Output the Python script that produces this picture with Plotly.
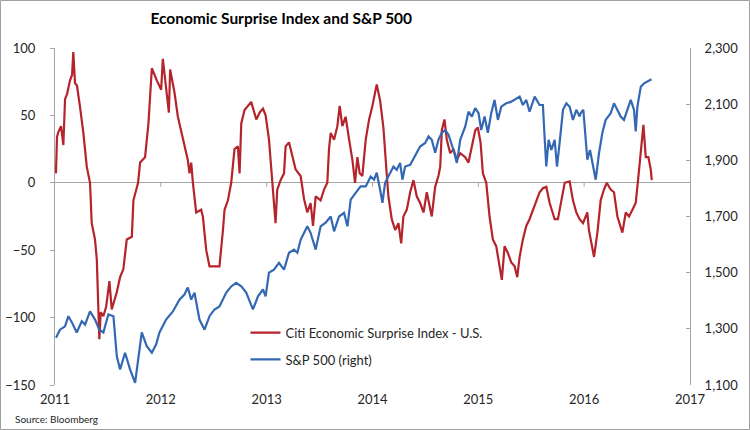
import plotly.graph_objects as go

# ---- data (decimal year, value) ----
cesi_t = [2011.009, 2011.019, 2011.033, 2011.057, 2011.079, 2011.095, 2011.114, 2011.142, 2011.161, 2011.173,
          2011.189, 2011.208, 2011.237, 2011.268, 2011.300, 2011.331, 2011.347, 2011.378, 2011.395, 2011.419,
          2011.432, 2011.457, 2011.483, 2011.514, 2011.536, 2011.584, 2011.615, 2011.646, 2011.678, 2011.726,
          2011.741, 2011.785, 2011.804, 2011.851, 2011.883, 2011.915, 2011.962, 2012.003, 2012.019, 2012.050,
          2012.076, 2012.088, 2012.129, 2012.161, 2012.208, 2012.255, 2012.271, 2012.287, 2012.303, 2012.334,
          2012.381, 2012.397, 2012.429, 2012.460, 2012.507, 2012.554, 2012.587, 2012.602, 2012.634, 2012.665,
          2012.696, 2012.728, 2012.744, 2012.760, 2012.791, 2012.854, 2012.902, 2012.933, 2012.965, 2012.990,
          2013.022, 2013.053, 2013.084, 2013.100, 2013.132, 2013.164, 2013.179, 2013.211, 2013.242, 2013.273,
          2013.321, 2013.353, 2013.384, 2013.415, 2013.438, 2013.463, 2013.510, 2013.542, 2013.573, 2013.589,
          2013.605, 2013.637, 2013.668, 2013.690, 2013.715, 2013.746, 2013.779, 2013.810, 2013.835, 2013.857,
          2013.879, 2013.904, 2013.936, 2013.968, 2013.999, 2014.040, 2014.072, 2014.103, 2014.134, 2014.150,
          2014.182, 2014.214, 2014.245, 2014.271, 2014.292, 2014.324, 2014.356, 2014.387, 2014.418, 2014.450,
          2014.482, 2014.513, 2014.560, 2014.592, 2014.623, 2014.640, 2014.655, 2014.680, 2014.702, 2014.734,
          2014.765, 2014.797, 2014.829, 2014.876, 2014.907, 2014.939, 2014.971, 2014.995, 2015.021, 2015.043,
          2015.075, 2015.106, 2015.137, 2015.169, 2015.201, 2015.222, 2015.248, 2015.279, 2015.311, 2015.343,
          2015.368, 2015.390, 2015.421, 2015.453, 2015.484, 2015.516, 2015.548, 2015.579, 2015.610, 2015.642,
          2015.674, 2015.721, 2015.752, 2015.790, 2015.816, 2015.863, 2015.894, 2015.926, 2015.957, 2015.989,
          2016.030, 2016.045, 2016.078, 2016.093, 2016.125, 2016.156, 2016.187, 2016.213, 2016.251, 2016.282,
          2016.314, 2016.345, 2016.361, 2016.393, 2016.424, 2016.456, 2016.487, 2016.509, 2016.535, 2016.560,
          2016.582, 2016.607, 2016.629, 2016.639]
cesi_v = [7, 34, 38, 42, 28, 62, 66, 76, 80, 97,
          74, 72, 56, 37, 12, 0, -30, -42, -57, -116,
          -96, -99, -92, -73, -94, -81, -70, -64, -42, -40,
          -13, 0, 15, 19, 44, 85, 76, 69, 92, 71,
          52, 84, 67, 49, 32, 17, 7, 15, 0, -22,
          -20, -25, -50, -62, -62, -62, -35, -20, -13, 0,
          25, 27, 7, 44, 54, 60, 47, 52, 55, 50,
          32, 0, -30, -5, 2, 7, 27, 30, 19, 10,
          5, -12, -22, -15, -32, -10, -13, -5, 0, 25,
          37, 32, 42, 57, 42, 49, 32, 17, 0, 19,
          7, 5, 32, 47, 57, 73, 61, 41, 7, -10,
          -27, -35, -30, -45, -25, -20, -7, 2, -10, -15,
          -22, -7, -25, -3, 5, 12, 39, 47, 32, 22,
          25, 17, 22, 19, 15, 27, 39, 41, 30, 7,
          0, -25, -42, -47, -62, -72, -47, -52, -59, -62,
          -70, -55, -42, -32, -27, -20, -13, -7, -4, -3,
          -15, -27, -27, -10, 0, 1, -13, -22, -27, -30,
          -22, -35, -47, -55, -37, -13, -5, 0, -5, -7,
          -25, -32, -37, -22, -25, -20, -15, 2, 25, 43,
          19, 19, 10, 2]

spx_t = [2011.009, 2011.047, 2011.095, 2011.126, 2011.161, 2011.205, 2011.253, 2011.284, 2011.331, 2011.378,
         2011.419, 2011.457, 2011.504, 2011.552, 2011.584, 2011.615, 2011.662, 2011.710, 2011.757, 2011.788,
         2011.820, 2011.867, 2011.915, 2011.956, 2011.987, 2012.050, 2012.114, 2012.176, 2012.223, 2012.255,
         2012.287, 2012.318, 2012.365, 2012.413, 2012.460, 2012.507, 2012.554, 2012.618, 2012.665, 2012.712,
         2012.760, 2012.807, 2012.870, 2012.918, 2012.965, 2012.990, 2013.022, 2013.069, 2013.116, 2013.164,
         2013.211, 2013.258, 2013.290, 2013.321, 2013.353, 2013.384, 2013.415, 2013.463, 2013.510, 2013.557,
         2013.605, 2013.637, 2013.684, 2013.731, 2013.763, 2013.794, 2013.841, 2013.888, 2013.936, 2013.983,
         2014.015, 2014.040, 2014.072, 2014.094, 2014.119, 2014.150, 2014.198, 2014.229, 2014.261, 2014.283,
         2014.308, 2014.356, 2014.403, 2014.450, 2014.498, 2014.529, 2014.560, 2014.592, 2014.623, 2014.655,
         2014.687, 2014.718, 2014.765, 2014.797, 2014.829, 2014.876, 2014.907, 2014.939, 2014.971, 2015.002,
         2015.027, 2015.059, 2015.090, 2015.122, 2015.153, 2015.185, 2015.217, 2015.264, 2015.311, 2015.359,
         2015.390, 2015.421, 2015.453, 2015.484, 2015.532, 2015.579, 2015.610, 2015.626, 2015.642, 2015.664,
         2015.690, 2015.721, 2015.743, 2015.768, 2015.800, 2015.832, 2015.863, 2015.894, 2015.926, 2015.957,
         2015.967, 2015.992, 2016.014, 2016.030, 2016.055, 2016.078, 2016.109, 2016.140, 2016.172, 2016.203,
         2016.251, 2016.282, 2016.314, 2016.345, 2016.376, 2016.408, 2016.440, 2016.471, 2016.487, 2016.503,
         2016.535, 2016.566, 2016.598, 2016.636]
spx_v = [1268, 1297, 1309, 1345, 1322, 1287, 1327, 1315, 1362, 1333,
         1297, 1287, 1351, 1345, 1202, 1155, 1215, 1155, 1108, 1191,
         1287, 1238, 1215, 1245, 1287, 1333, 1362, 1404, 1422, 1447,
         1404, 1429, 1333, 1297, 1345, 1369, 1380, 1429, 1451, 1464,
         1451, 1429, 1369, 1416, 1440, 1416, 1500, 1511, 1535, 1511,
         1571, 1582, 1571, 1617, 1642, 1665, 1642, 1582, 1665, 1678,
         1700, 1647, 1700, 1713, 1665, 1760, 1784, 1807, 1807, 1842,
         1831, 1856, 1795, 1749, 1820, 1842, 1878, 1866, 1891, 1831,
         1878, 1884, 1914, 1949, 1962, 1985, 1973, 1927, 1973, 1998,
         2008, 1991, 1937, 1891, 1973, 2020, 2073, 2056, 2086, 2068,
         2008, 2056, 1998, 2068, 2115, 2044, 2091, 2103, 2109, 2121,
         2127, 2097, 2115, 2073, 2127, 2097, 2097, 1985, 1878, 1973,
         1937, 1973, 1878, 1962, 2080, 2103, 2091, 2044, 2080, 2056,
         2068, 2080, 1973, 1902, 1937, 1891, 1831, 1925, 1998, 2044,
         2068, 2103, 2080, 2056, 2044, 2080, 2115, 2080, 2003, 2091,
         2162, 2174, 2180, 2189]

year_ticks = [2011, 2012, 2013, 2014, 2015, 2016, 2017]
left_ticks = [-150, -100, -50, 0, 50, 100]
right_ticks = [1100, 1300, 1500, 1700, 1900, 2100, 2300]

RED = "#B5242B"
BLUE = "#3468B3"
GRAY = "#A6A6A6"
TXT = "#262626"
FONT = "Lato"

fig = go.Figure()
fig.add_trace(go.Scatter(x=cesi_t, y=cesi_v, mode="lines", name="Citi Economic Surprise Index - U.S.",
                         line=dict(color=RED, width=2.2), legendgroup="a", yaxis="y"))
fig.add_trace(go.Scatter(x=spx_t, y=spx_v, mode="lines", name="S&P 500 (right)",
                         line=dict(color=BLUE, width=2.2), legendgroup="b", yaxis="y2"))

shapes = []
for yr in year_ticks[1:-1]:
    shapes.append(dict(type="line", xref="x", yref="y", x0=yr, x1=yr, y0=0, y1=-3,
                       line=dict(color=GRAY, width=1)))
# outer border of the picture
L, R, T, B = 55, 60, 48, 45
W, H = 750, 430
pw, ph = W - L - R, H - T - B
shapes.append(dict(type="rect", xref="paper", yref="paper",
                   x0=(0.5 - L) / pw, x1=(W - 0.5 - L) / pw,
                   y0=(H - B - (H - 0.5)) / ph, y1=(H - B - 0.5) / ph,
                   line=dict(color="#A0A0A0", width=1), fillcolor="rgba(0,0,0,0)"))

fig.update_layout(
    width=W, height=H,
    margin=dict(l=L, r=R, t=T, b=B, autoexpand=False),
    paper_bgcolor="white", plot_bgcolor="white",
    font=dict(family=FONT, size=13, color=TXT),
    title=dict(text="<b>Economic Surprise Index and S&P 500</b>", x=0.375, xref="container",
               xanchor="center", y=1 - 19 / H, yanchor="middle",
               font=dict(family=FONT, size=15.5, color="#000000")),
    xaxis=dict(range=[2011, 2017], tickvals=year_ticks, ticktext=[str(y) for y in year_ticks],
               showgrid=False, zeroline=False, showline=False, ticks="", automargin=False,
               ticklabelstandoff=5, tickfont=dict(size=13, color=TXT)),
    yaxis=dict(range=[-150, 100], tickvals=left_ticks, showgrid=False, automargin=False,
               showline=True, linecolor=GRAY, linewidth=1, ticks="outside", ticklen=4, tickcolor=GRAY,
               zeroline=True, zerolinecolor=GRAY, zerolinewidth=1, ticklabelstandoff=12,
               tickfont=dict(size=13, color=TXT)),
    yaxis2=dict(range=[1100, 2300], tickvals=right_ticks, tickformat=",d", overlaying="y", side="right",
                showgrid=False, zeroline=False, showline=True, linecolor=GRAY, linewidth=1, automargin=False,
                ticks="inside", ticklen=4, tickcolor=GRAY, ticklabelstandoff=11,
                tickfont=dict(size=13, color=TXT)),
    legend=dict(x=0.30, y=0.20, xanchor="left", yanchor="top", bgcolor="rgba(0,0,0,0)",
                font=dict(family=FONT, size=13, color=TXT), tracegroupgap=7),
    showlegend=True,
    shapes=shapes,
    annotations=[dict(text="Source: Bloomberg", xref="paper", yref="paper",
                      x=(13 - L) / pw, y=(H - B - 419) / ph, xanchor="left", yanchor="middle",
                      showarrow=False, font=dict(family=FONT, size=10, color=TXT))],
)

fig.write_html("out.html", config={"displayModeBar": False},
               post_script="document.body.style.margin='0';document.body.style.padding='0';")
